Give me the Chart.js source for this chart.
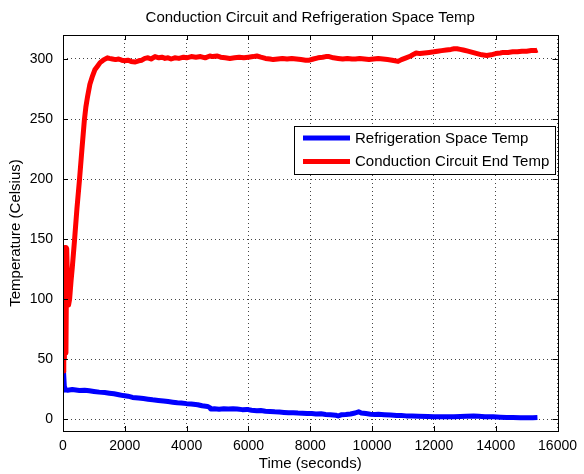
<!DOCTYPE html>
<html>
<head>
<meta charset="utf-8">
<script src="https://cdn.jsdelivr.net/npm/chart.js@4/dist/chart.umd.min.js"></script>
<style>
  html, body { margin: 0; padding: 0; background: #ffffff; }
  #wrap { width: 584px; height: 474px; }
</style>
</head>
<body>
<div id="wrap"><canvas id="c" width="584" height="474"></canvas></div>
<script>
// ---- data ----
const chartTitle = 'Conduction Circuit and Refrigeration Space Temp';
const xAxisTitle = 'Time (seconds)';
const yAxisTitle = 'Temperature (Celsius)';
const seriesLabels = ['Refrigeration Space Temp', 'Conduction Circuit End Temp'];

const xTicks = [0, 2000, 4000, 6000, 8000, 10000, 12000, 14000, 16000];
const yTicks = [0, 50, 100, 150, 200, 250, 300];

const timeBlue = [0, 10, 20, 30, 45, 60, 150, 300, 532, 700, 850, 1000, 1170, 1350, 1500, 1650, 1807, 1950,
  2100, 2250, 2445, 2600, 2750, 2900, 3083, 3250, 3400, 3550, 3700, 3826, 4000, 4150, 4357, 4500, 4676,
  4750, 4782, 4900, 5050, 5200, 5350, 5500, 5632, 5800, 5950, 6100, 6270, 6400, 6550, 6700, 6850, 7000,
  7150, 7300, 7450, 7600, 7750, 7900, 8050, 8183, 8350, 8500, 8650, 8820, 8900, 9000, 9150, 9300, 9450,
  9564, 9650, 9800, 9950, 10100, 10202, 10400, 10600, 10800, 10946, 11100, 11300, 11500, 11796, 12000,
  12200, 12400, 12646, 12850, 13050, 13283, 13450, 13650, 13921, 14150, 14350, 14559, 14800, 15000, 15200, 15350];
const tempBlue = [24, 40, 30, 38, 26, 24.5, 24, 24.5, 23.8, 24, 23.5, 23, 22.4, 22, 21.5, 21, 20.2, 19.5,
  19, 18, 17.5, 17, 16.5, 16, 15.5, 15, 14.5, 14, 13.5, 13.3, 12.8, 12.5, 11.9, 11, 10.5,
  9.5, 8.3, 8.5, 8.2, 8.5, 8.3, 8.5, 8.3, 7.8, 8, 7.3, 6.9, 7, 6.5, 6.3, 6, 5.8,
  5.5, 5.2, 5.3, 5, 4.8, 4.6, 4.5, 4.2, 4.3, 3.8, 3.5, 3.2, 2.5, 3.5, 3.8, 4.2, 5,
  6, 5, 4.5, 4, 3.8, 4, 3.6, 3.3, 3, 2.9, 2.6, 2.4, 2.2, 2, 1.9,
  1.9, 1.8, 1.8, 2, 2.2, 2.4, 2.2, 1.9, 1.8, 1.5, 1.3, 1.2, 1, 1.1, 1, 1.2];

const timeRed = [0, 25, 45, 70, 95, 120, 150, 180, 214, 260, 300, 373, 450, 532, 610, 691, 740, 797, 870,
  957, 1030, 1116, 1200, 1300, 1435, 1500, 1600, 1700, 1800, 1900, 2000, 2100, 2200, 2340, 2450, 2550,
  2650, 2750, 2850, 2977, 3100, 3200, 3300, 3400, 3500, 3615, 3750, 3900, 4000, 4150, 4300, 4450, 4600,
  4750, 4850, 4995, 5100, 5250, 5400, 5550, 5700, 5850, 6000, 6150, 6270, 6400, 6550, 6700, 6800, 6950,
  7100, 7250, 7400, 7550, 7700, 7850, 7970, 8100, 8250, 8400, 8500, 8610, 8750, 8900, 9050, 9200, 9350,
  9460, 9600, 9750, 9900, 10050, 10200, 10350, 10500, 10650, 10840, 10950, 11100, 11250, 11350, 11425,
  11550, 11700, 11850, 12000, 12115, 12250, 12400, 12550, 12650, 12750, 12850, 12950, 13100, 13250, 13400,
  13550, 13710, 13850, 14000, 14150, 14240, 14400, 14550, 14700, 14850, 15000, 15150, 15300, 15350];
const tempRed = [40, 143, 50, 143, 55, 142, 110, 95, 100, 115, 126, 149, 175, 199, 224, 249, 260, 269, 279,
  286, 291, 294, 297, 299, 301, 300.5, 300, 299.5, 300, 299, 298.5, 299, 298, 297.5, 298.5, 299,
  300.5, 301, 300, 302, 301, 301.5, 300.5, 301, 300, 301, 300.5, 301.5, 301, 302, 301.5, 302, 301,
  302.5, 302, 302.5, 301.5, 301, 300.5, 301, 301.5, 301, 301.5, 302, 302.5, 301.5, 300.5, 300, 299.5, 300,
  300.5, 300, 300.5, 300, 299.5, 299, 299, 300, 301, 301.5, 302, 302, 301, 300.5, 300, 300.5, 300,
  300, 300.5, 300, 299.5, 300, 300.5, 300, 299.5, 299, 298, 299.5, 301, 302.5, 304, 305,
  304.5, 305, 305.5, 306, 306.5, 307, 307.5, 308, 308.5, 308.5, 308, 307.5, 306.5, 305.5, 304.5,
  303.5, 303, 303.5, 304.5, 305, 305.5, 305.5, 306, 306, 306.5, 306.5, 307, 307, 307.5];

const seriesColors = ['#0000ff', '#ff0000'];

// ---- plugins ----
const FONT = "'Liberation Sans', Arial, sans-serif";

const framePlugin = {
  id: 'frame',
  afterDatasetsDraw(chart) {
    const { ctx, chartArea: a, scales } = chart;
    ctx.save();
    ctx.strokeStyle = '#000';
    ctx.lineWidth = 1;
    ctx.setLineDash([]);
    ctx.beginPath();
    const tl = 5;
    xTicks.forEach(v => {
      const px = Math.round(scales.x.getPixelForValue(v)) + 0.5;
      ctx.moveTo(px, a.bottom); ctx.lineTo(px, a.bottom - tl);
      ctx.moveTo(px, a.top); ctx.lineTo(px, a.top + tl);
    });
    yTicks.forEach(v => {
      const py = Math.round(scales.y.getPixelForValue(v)) + 0.5;
      ctx.moveTo(a.left, py); ctx.lineTo(a.left + tl, py);
      ctx.moveTo(a.right, py); ctx.lineTo(a.right - tl, py);
    });
    ctx.stroke();
    ctx.strokeRect(Math.round(a.left) + 0.5, Math.round(a.top) + 0.5,
      Math.round(a.right - a.left), Math.round(a.bottom - a.top));
    ctx.restore();
  }
};

const boxLegendPlugin = {
  id: 'boxLegend',
  afterDraw(chart) {
    const { ctx, chartArea: a } = chart;
    const ds = chart.data.datasets;
    ctx.save();
    ctx.font = '15px ' + FONT;
    let maxW = 0;
    ds.forEach(d => { maxW = Math.max(maxW, ctx.measureText(d.label).width); });
    const lineLen = 47, padL = 9, gap = 5, padR = 6;
    const w = Math.round(padL + lineLen + gap + maxW + padR);
    const h = 48;
    const right = Math.round(a.right) - 3;
    const left = right - w;
    const top = Math.round(a.top) + 91;
    ctx.fillStyle = '#fff';
    ctx.fillRect(left, top, w, h);
    ctx.strokeStyle = '#000';
    ctx.lineWidth = 1;
    ctx.strokeRect(left + 0.5, top + 0.5, w, h);
    ds.forEach((d, i) => {
      const y = top + 12 + i * 23.4;
      ctx.strokeStyle = d.borderColor;
      ctx.lineWidth = d.borderWidth;
      ctx.beginPath();
      ctx.moveTo(left + padL, y);
      ctx.lineTo(left + padL + lineLen, y);
      ctx.stroke();
      ctx.fillStyle = '#000';
      ctx.textBaseline = 'middle';
      ctx.textAlign = 'left';
      ctx.fillText(d.label, left + padL + lineLen + gap, y + 0.5);
    });
    ctx.restore();
  }
};

const toPoints = (xs, ys) => xs.map((x, i) => ({ x: x, y: ys[i] }));

new Chart(document.getElementById('c'), {
  type: 'line',
  data: {
    datasets: [
      {
        label: seriesLabels[0],
        data: toPoints(timeBlue, tempBlue),
        borderColor: seriesColors[0],
        backgroundColor: seriesColors[0],
        borderWidth: 5,
        borderJoinStyle: 'round',
        pointRadius: 0,
        tension: 0,
        fill: false,
        order: 1
      },
      {
        label: seriesLabels[1],
        data: toPoints(timeRed, tempRed),
        borderColor: seriesColors[1],
        backgroundColor: seriesColors[1],
        borderWidth: 5,
        borderJoinStyle: 'round',
        pointRadius: 0,
        tension: 0,
        fill: false,
        order: 0
      }
    ]
  },
  options: {
    responsive: false,
    animation: false,
    devicePixelRatio: 1,
    layout: { padding: { left: 0, right: 19, top: 0, bottom: 0 } },
    plugins: {
      legend: { display: false },
      tooltip: { enabled: false },
      title: {
        display: true,
        fullSize: false,
        text: chartTitle,
        color: '#000',
        font: { family: FONT, size: 15, weight: 'normal', lineHeight: 1.2 },
        padding: { top: 9, bottom: 8 }
      }
    },
    scales: {
      x: {
        type: 'linear',
        min: 0,
        max: 16000,
        afterBuildTicks: s => { s.ticks = xTicks.map(v => ({ value: v })); },
        afterFit: s => { s.height = 43; },
        ticks: {
          color: '#000',
          font: { family: FONT, size: 14 },
          padding: 7,
          maxRotation: 0,
          autoSkip: false,
          callback: v => String(v)
        },
        grid: { color: '#444', lineWidth: 1, drawTicks: false },
        border: { display: false, dash: [1, 3] },
        title: {
          display: true,
          text: xAxisTitle,
          color: '#000',
          font: { family: FONT, size: 15, lineHeight: 1.2 },
          padding: { top: 0, bottom: 1 }
        }
      },
      y: {
        type: 'linear',
        min: -10,
        max: 320,
        afterBuildTicks: s => { s.ticks = yTicks.map(v => ({ value: v })); },
        afterFit: s => { s.width = 63; },
        ticks: {
          color: '#000',
          font: { family: FONT, size: 14 },
          padding: 10,
          callback: v => String(v)
        },
        grid: { color: '#444', lineWidth: 1, drawTicks: false },
        border: { display: false, dash: [1, 3] },
        title: {
          display: true,
          text: yAxisTitle,
          color: '#000',
          font: { family: FONT, size: 15, lineHeight: 1.2 },
          padding: { top: 7, bottom: 0 }
        }
      }
    }
  },
  plugins: [framePlugin, boxLegendPlugin]
});
</script>
</body>
</html>
